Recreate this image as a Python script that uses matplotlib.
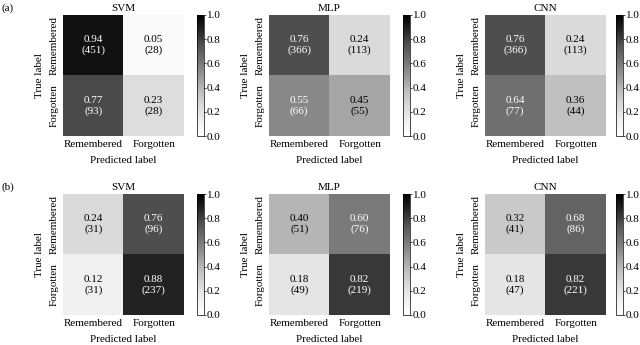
import matplotlib.pyplot as plt
import numpy as np

plt.rcParams['font.family'] = ['Liberation Serif', 'DejaVu Serif']
plt.rcParams['font.size'] = 8

classes = ['Remembered', 'Forgotten']
models = ['SVM', 'MLP', 'CNN']
panels = ['(a)', '(b)']

# row (a)
svm_a = [[0.94, 0.05], [0.77, 0.23]]
svm_a_n = [[451, 28], [93, 28]]
mlp_a = [[0.76, 0.24], [0.55, 0.45]]
mlp_a_n = [[366, 113], [66, 55]]
cnn_a = [[0.76, 0.24], [0.64, 0.36]]
cnn_a_n = [[366, 113], [77, 44]]

# row (b)
svm_b = [[0.24, 0.76], [0.12, 0.88]]
svm_b_n = [[31, 96], [31, 237]]
mlp_b = [[0.40, 0.60], [0.18, 0.82]]
mlp_b_n = [[51, 76], [49, 219]]
cnn_b = [[0.32, 0.68], [0.18, 0.82]]
cnn_b_n = [[41, 86], [47, 221]]

rows = [
    [(svm_a, svm_a_n), (mlp_a, mlp_a_n), (cnn_a, cnn_a_n)],
    [(svm_b, svm_b_n), (mlp_b, mlp_b_n), (cnn_b, cnn_b_n)],
]

W, H = 640, 345
fig = plt.figure(figsize=(6.4, 3.45), dpi=100)

mat_left = [63, 269, 485]
cb_left = [197, 403, 616]
row_top = [15, 194]
size = 121

for r, row in enumerate(rows):
    top = row_top[r]
    for c, (frac, cnt) in enumerate(row):
        ax = fig.add_axes([mat_left[c] / W, (H - top - size) / H, size / W, size / H])
        im = ax.imshow(np.array(frac), cmap='Greys', vmin=0, vmax=1, aspect='auto')
        for i in range(2):
            for j in range(2):
                v = frac[i][j]
                col = 'white' if v > 0.5 else 'black'
                ax.text(j, i, f'{v:.2f}\n({cnt[i][j]})', ha='center', va='center',
                        color=col, fontsize=8, linespacing=1.15)
        ax.set_xticks([0, 1])
        ax.set_xticklabels(classes)
        ax.set_yticks([0, 1])
        ax.set_yticklabels(classes, rotation=90, va='center')
        ax.tick_params(length=0, pad=3)
        for s in ax.spines.values():
            s.set_visible(False)
        ax.set_title(models[c], fontsize=8, pad=3)
        ax.set_xlabel('Predicted label', labelpad=5)
        ax.set_ylabel('True label', labelpad=4)

        cax = fig.add_axes([cb_left[c] / W, (H - top - size) / H, 7 / W, size / H])
        cb = fig.colorbar(im, cax=cax, ticks=[0, 0.2, 0.4, 0.6, 0.8, 1.0])
        cb.ax.set_yticklabels(['0.0', '0.2', '0.4', '0.6', '0.8', '1.0'])
        cb.ax.tick_params(length=1.5, width=0.5, pad=0.5)
        cb.outline.set_linewidth(0.5)

    fig.text(2 / W, 1 - (top - 7) / H, panels[r], fontsize=8, va='center')

fig.savefig('out.png', dpi=100)
